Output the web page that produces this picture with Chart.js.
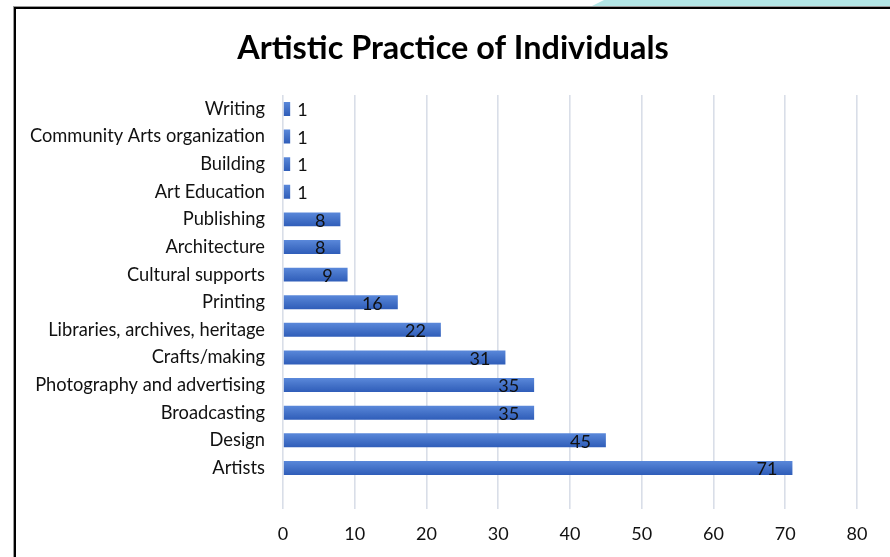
<!DOCTYPE html>
<html>
<head>
<meta charset="utf-8">
<script src="https://cdn.jsdelivr.net/npm/chart.js@4/dist/chart.umd.min.js"></script>
<style>
  html, body { margin: 0; padding: 0; background: #fff; overflow: hidden; }
  body { width: 890px; height: 557px; position: relative; }
  #tab {
    position: absolute; left: 590px; top: 0; width: 300px; height: 7px;
    background: #B3E6E6;
    clip-path: polygon(0 100%, 14px 0, 100% 0, 100% 100%);
  }
  #frame {
    position: absolute; left: 14px; top: 7px; width: 890px; height: 560px;
    border-left: 2px solid #000; border-top: 2px solid #000;
    box-shadow: -1px -1px 0 #9a9a9a;
    background: #fff;
  }
  #wrap { position: absolute; left: 16px; top: 9px; width: 874px; height: 550px; }
</style>
</head>
<body>
<div id="tab"></div>
<div id="frame"></div>
<div id="wrap"><canvas id="chart"></canvas></div>
<script>
// Fields of artistic practice, listed top to bottom; the last slot is an empty row.
const categories = [
  'Writing',
  'Community Arts organization',
  'Building',
  'Art Education',
  'Publishing',
  'Architecture',
  'Cultural supports',
  'Printing',
  'Libraries, archives, heritage',
  'Crafts/making',
  'Photography and advertising',
  'Broadcasting',
  'Design',
  'Artists',
  ''
];
const individuals = [1, 1, 1, 1, 8, 8, 9, 16, 22, 31, 35, 35, 45, 71, null];
const xTicks = [0, 10, 20, 30, 40, 50, 60, 70, 80];

const FONT = 'Lato, "Open Sans", sans-serif';

// Vertical blue gradient for each bar, aligned with that bar's own band.
function barFill(ctx) {
  const chart = ctx.chart;
  const y = chart.scales && chart.scales.y;
  if (!y || !chart.chartArea || ctx.dataIndex === undefined) return '#4472C4';
  const c = y.getPixelForValue(ctx.dataIndex);
  const g = chart.ctx.createLinearGradient(0, c - 7, 0, c + 7);
  g.addColorStop(0, '#5A88DA');
  g.addColorStop(0.5, '#4472C8');
  g.addColorStop(1, '#2F5DB9');
  return g;
}

// Value labels: inside the bar end when they fit, otherwise just past it.
const valueLabels = {
  id: 'valueLabels',
  afterDatasetsDraw(chart) {
    const ctx = chart.ctx;
    const meta = chart.getDatasetMeta(0);
    ctx.save();
    ctx.font = '18px ' + FONT;
    ctx.fillStyle = '#111';
    ctx.textBaseline = 'middle';
    meta.data.forEach((bar, i) => {
      const v = individuals[i];
      if (v === null || v === undefined) return;
      const txt = String(v);
      const w = ctx.measureText(txt).width;
      const barLen = bar.x - bar.base;
      if (barLen > w + 20) {
        ctx.textAlign = 'right';
        ctx.fillText(txt, bar.x - 15, bar.y + 1.5);
      } else {
        ctx.textAlign = 'left';
        ctx.fillText(txt, bar.x + 7, bar.y + 1.5);
      }
    });
    ctx.restore();
  }
};

new Chart(document.getElementById('chart'), {
  type: 'bar',
  data: {
    labels: categories,
    datasets: [{
      label: 'Individuals',
      data: individuals,
      backgroundColor: barFill,
      borderWidth: 0,
      categoryPercentage: 1,
      barPercentage: 0.506
    }]
  },
  options: {
    indexAxis: 'y',
    responsive: true,
    maintainAspectRatio: false,
    animation: false,
    layout: { padding: 0 },
    plugins: {
      legend: { display: false },
      tooltip: { enabled: false },
      title: {
        display: true,
        text: 'Artistic Practice of Individuals',
        color: '#000',
        font: { family: FONT, size: 32.4, weight: 'bold', lineHeight: 1.2 },
        padding: { top: 20, bottom: 27.2 }
      }
    },
    scales: {
      x: {
        min: 0,
        max: 80,
        afterBuildTicks(scale) { scale.ticks = xTicks.map(v => ({ value: v })); },
        grid: { color: '#D9DEE8', lineWidth: 1.6, drawTicks: false },
        border: { display: false },
        ticks: { color: '#111', font: { family: FONT, size: 18 }, padding: 14 }
      },
      y: {
        afterFit(scale) { scale.width = 267; },
        grid: { display: false, drawTicks: false },
        border: { display: false },
        ticks: { color: '#111', font: { family: FONT, size: 18.3 }, padding: 18, autoSkip: false }
      },
      // Blank right-hand margin beside the plot
      margin: {
        type: 'linear',
        position: 'right',
        min: 0,
        max: 1,
        afterFit(scale) { scale.width = 33; },
        grid: { display: false, drawTicks: false },
        border: { display: false },
        ticks: { display: false }
      }
    }
  },
  plugins: [valueLabels]
});
</script>
</body>
</html>
